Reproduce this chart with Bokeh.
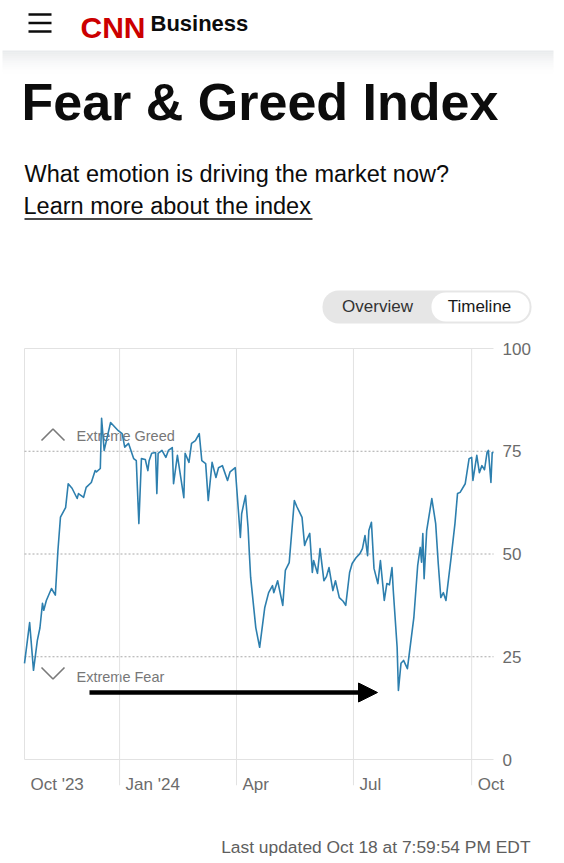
import pandas as pd
from bokeh.plotting import figure
from bokeh.layouts import column
from bokeh.models import (Range1d, FixedTicker, Label, Arrow, NormalHead,
                          BoxAnnotation, ColumnDataSource)
from bokeh.embed import file_html
from bokeh.resources import INLINE

# ---------------- data ----------------
dates = [
    "2023-10-19", "2023-10-23", "2023-10-26", "2023-10-29", "2023-10-31",
    "2023-11-02", "2023-11-03", "2023-11-05", "2023-11-09", "2023-11-12", "2023-11-14",
    "2023-11-16", "2023-11-20", "2023-11-22", "2023-11-25", "2023-11-29", "2023-11-30",
    "2023-12-04", "2023-12-06", "2023-12-10", "2023-12-13", "2023-12-14", "2023-12-17",
    "2023-12-18", "2023-12-20", "2023-12-25", "2023-12-31",
    "2024-01-03", "2024-01-05", "2024-01-08", "2024-01-12", "2024-01-14", "2024-01-16",
    "2024-01-18", "2024-01-21", "2024-01-23", "2024-01-24", "2024-01-26", "2024-01-29",
    "2024-01-30", "2024-01-31",
    "2024-02-03", "2024-02-06", "2024-02-08", "2024-02-11", "2024-02-12", "2024-02-15",
    "2024-02-20", "2024-02-21", "2024-02-24", "2024-02-26", "2024-02-29",
    "2024-03-03", "2024-03-05", "2024-03-08", "2024-03-10", "2024-03-13", "2024-03-16",
    "2024-03-18", "2024-03-21", "2024-03-25", "2024-03-27", "2024-03-31",
    "2024-04-04", "2024-04-05", "2024-04-08", "2024-04-10", "2024-04-11", "2024-04-12",
    "2024-04-16", "2024-04-19", "2024-04-23", "2024-04-26", "2024-04-29", "2024-04-30",
    "2024-05-03", "2024-05-07", "2024-05-09", "2024-05-12", "2024-05-16", "2024-05-18",
    "2024-05-22", "2024-05-24", "2024-05-25", "2024-05-28", "2024-05-30", "2024-05-31",
    "2024-06-03", "2024-06-05", "2024-06-08", "2024-06-10", "2024-06-12", "2024-06-15",
    "2024-06-17", "2024-06-20", "2024-06-23", "2024-06-25", "2024-06-28", "2024-06-30",
    "2024-07-03", "2024-07-06", "2024-07-08", "2024-07-10", "2024-07-12", "2024-07-13",
    "2024-07-15", "2024-07-17", "2024-07-20", "2024-07-22", "2024-07-25", "2024-07-27",
    "2024-07-29", "2024-07-31",
    "2024-08-01", "2024-08-04", "2024-08-05", "2024-08-07", "2024-08-09", "2024-08-12",
    "2024-08-17", "2024-08-20", "2024-08-22", "2024-08-23", "2024-08-24", "2024-08-25",
    "2024-08-27", "2024-08-31",
    "2024-09-03", "2024-09-05", "2024-09-07", "2024-09-09", "2024-09-11", "2024-09-15",
    "2024-09-18", "2024-09-20", "2024-09-22", "2024-09-26", "2024-09-29",
    "2024-10-01", "2024-10-02", "2024-10-05", "2024-10-07", "2024-10-09", "2024-10-11",
    "2024-10-13", "2024-10-14", "2024-10-16", "2024-10-17", "2024-10-18",
]
fear_greed = [
    23.4, 33.3, 21.7, 29, 32,
    38, 36.3, 38.7, 41.6, 40, 50.8,
    59, 61.3, 67.1, 66, 63.5, 64.7,
    63.8, 66.2, 67.4, 70.3, 70, 70.8,
    83, 75.2, 82, 80,
    79.3, 76, 76.9, 73.2, 72.7, 57.4,
    73.2, 73, 70.3, 72.7, 74.5, 74.7,
    64.7, 74.5,
    75.2, 73.5, 75.2, 75.9, 67.1, 74,
    63.7, 74.5, 72.3, 76.9, 77.6,
    79.3, 72.7, 72, 63, 72.3, 68.6,
    71, 71.5, 67.9, 70, 71,
    54, 59.8, 64.2, 56.4, 50.1, 44.3,
    32.1, 27.3, 37, 40.6, 42.3, 40.6,
    43.5, 37.5, 46, 47.9, 63, 61.5,
    58.9, 52.1, 53, 55, 45.5, 48.4,
    45.3, 51.3, 43.5, 44.5, 46.7, 41.1,
    43.5, 39.4, 38.5, 37.5, 45.5, 47.7,
    49.1, 50.1, 51.3, 54.5, 49.6, 55.7,
    57.7, 46.5, 42.8, 48.4, 38.7, 42.8,
    42.5, 46.7,
    41.1, 27.3, 16.8, 23.4, 24.1, 22.1,
    34.5, 47.2, 51.6, 48, 55, 44,
    55.7, 63.5,
    57.4, 47.7, 39.4, 40.6, 38.7, 49.1,
    57.4, 64.7, 65, 67.1, 73.2,
    73.5, 67.9, 74, 69.8, 71.5, 70.5,
    74.7, 75.2, 67.4, 74.7, 74.7,
]
assert len(dates) == len(fear_greed)

tick_dates = ["2023-10-19", "2024-01-01", "2024-04-01", "2024-07-01", "2024-10-01"]
tick_labels = ["Oct '23", "Jan '24", "Apr", "Jul", "Oct"]
y_ticks = [0, 25, 50, 75, 100]
dotted_levels = [25, 50, 75]
solid_levels = [0, 100]

brand_text = "CNN"
section_text = "Business"
title_text = "Fear & Greed Index"
subtitle_text = "What emotion is driving the market now?"
link_text = "Learn more about the index"
toggle_labels = ["Overview", "Timeline"]
zone_labels = ["Extreme Greed", "Extreme Fear"]
footer_text = "Last updated Oct 18 at 7:59:54 PM EDT"

# ---------------- layout (page pixel coordinates; page margin is 0) ----------------
W = 564
HEAD_H = 338                  # header strip: page y 0..338
CHART_TOP, CHART_BOT = 338, 805
FOOT_BOT = 862
FL, FR, FB = 24, 493, 785               # plotting area left/right, frame bottom (page px)
ZERO_Y, HUNDRED_Y = 759, 348            # pixel rows of value 0 and 100
ppu = (ZERO_Y - HUNDRED_Y) / 100.0

FONT = "'Liberation Sans', Arial, Helvetica, sans-serif"
INK = "#0c0c0c"
GRAY = "#6b6b6b"
LINE = "#2d7fae"
GRID_SOLID = "#e2e2e2"
GRID_DOT = "#a8a8a8"
LABEL_PX = 17
MID = 0.35      # distance (em) from alphabetic baseline up to the 'middle' anchor

# Arial/Liberation Sans advance widths (1/1000 em) for centring the shifted x labels
ADV = {"O": 778, "c": 500, "t": 278, " ": 278, "'": 191, "2": 556, "3": 556, "4": 556,
       "J": 500, "a": 556, "n": 556, "A": 667, "p": 556, "r": 333, "u": 556, "l": 222}


def text_w(s, size):
    return sum(ADV.get(ch, 556) for ch in s) * size / 1000.0


def mid(baseline, size):
    return baseline - MID * size


def page_fig(height, y_top, y_bot):
    f = figure(width=W, height=height, x_range=Range1d(0, W), y_range=Range1d(y_bot, y_top),
               x_axis_location=None, y_axis_location=None, min_border=0,
               min_border_left=0, min_border_right=0, min_border_top=0, min_border_bottom=0,
               toolbar_location=None, output_backend="svg", outline_line_color=None,
               background_fill_color="white", border_fill_color="white")
    f.grid.visible = False
    return f


def txt(fig, x, baseline, s, size, color=INK, bold=False, align="left", font=FONT, **kw):
    fig.add_layout(Label(x=x, y=mid(baseline, size), text=s, text_font=font,
                         text_font_size=f"{size}px",
                         text_font_style="bold" if bold else "normal",
                         text_color=color, text_align=align, text_baseline="middle", **kw))


# ================= header =================
hdr = page_fig(HEAD_H, 0, HEAD_H)

n_sh = 14
for i in range(n_sh):
    a = 0.40 * (1 - i / n_sh) ** 1.8
    hdr.add_layout(BoxAnnotation(left=2, right=553, top=50 + i * 1.8, bottom=50 + (i + 1) * 1.8,
                                 fill_color="#c9cdd2", fill_alpha=a, line_color=None))
hdr.segment(x0=[28, 28, 28], y0=[14, 22.5, 31], x1=[51, 51, 51], y1=[14, 22.5, 31],
            line_color=INK, line_width=2.4)
txt(hdr, 80, 37, brand_text, 30, color="#cc0000", bold=True)
txt(hdr, 150, 31, section_text, 22, bold=True)
txt(hdr, 21, 120, title_text, 52, bold=True)
txt(hdr, 24, 181.5, subtitle_text, 23.5)
txt(hdr, 23, 213.5, link_text, 23.5)
hdr.segment(x0=[24], y0=[218.5], x1=[312], y1=[218.5], line_color=INK, line_width=1.5)

hdr.add_layout(BoxAnnotation(left=322, right=531, top=290, bottom=323, fill_color="#e6e6e6",
                             fill_alpha=1, line_color=None, border_radius=16))
hdr.add_layout(BoxAnnotation(left=431, right=529, top=292, bottom=321, fill_color="white",
                             fill_alpha=1, line_color=None, border_radius=14))
txt(hdr, 377, 312, toggle_labels[0], 17, color="#333333", align="center")
txt(hdr, 479, 312, toggle_labels[1], 17, color="#1a1a1a", align="center")

# ================= chart =================
x = pd.to_datetime(dates)
src = ColumnDataSource(dict(date=x, fg=fear_greed))


def ms(d):
    return pd.Timestamp(d).value / 1e6


x0_ms, x1_ms = ms(dates[0]), ms(dates[-1])
px_per_ms = (FR - FL) / (x1_ms - x0_ms)
xr = Range1d(x0_ms - FL / px_per_ms, x1_ms + (W - FR) / px_per_ms)
yr = Range1d(-(FB - ZERO_Y) / ppu, (ZERO_Y - CHART_TOP) / ppu)

p = figure(width=W, frame_width=W, frame_height=FB - CHART_TOP,
           x_axis_type="datetime", y_axis_location=None,
           x_range=xr, y_range=yr, output_backend="svg", toolbar_location=None,
           min_border=0, min_border_left=0, min_border_right=0, min_border_top=0,
           min_border_bottom=CHART_BOT - FB,
           outline_line_color=None, background_fill_color="white",
           border_fill_color="white")
p.grid.visible = False

p.extra_x_ranges = {"px": Range1d(0, W)}
p.extra_y_ranges = {"py": Range1d(FB, CHART_TOP)}

label_ticks = [ms(d) + (6 + text_w(lab, LABEL_PX) / 2) / px_per_ms
               for d, lab in zip(tick_dates, tick_labels)]
p.xaxis.ticker = FixedTicker(ticks=label_ticks)
p.xaxis.major_label_overrides = {t: lab for t, lab in zip(label_ticks, tick_labels)}
p.xaxis.major_label_text_font = FONT
p.xaxis.major_label_text_font_size = f"{LABEL_PX}px"
p.xaxis.major_label_text_color = GRAY
p.xaxis.major_label_standoff = -17
p.xaxis.axis_line_color = None
p.xaxis.major_tick_line_color = None
p.xaxis.minor_tick_line_color = None

# grid lines, bounded to the plotting area
tick_ms = [ms(d) for d in tick_dates]
p.segment(x0=tick_ms[:1], y0=[min(solid_levels)], x1=tick_ms[:1], y1=[max(solid_levels)],
          line_color=GRID_SOLID, line_width=1)
p.segment(x0=tick_ms[1:], y0=[yr.start] * (len(tick_ms) - 1), x1=tick_ms[1:],
          y1=[max(solid_levels)] * (len(tick_ms) - 1), line_color=GRID_SOLID, line_width=1)
p.segment(x0=[x0_ms] * len(solid_levels), y0=solid_levels, x1=[x1_ms] * len(solid_levels),
          y1=solid_levels, line_color=GRID_SOLID, line_width=1)
p.segment(x0=[x0_ms] * len(dotted_levels), y0=dotted_levels, x1=[x1_ms] * len(dotted_levels),
          y1=dotted_levels, line_color=GRID_DOT, line_width=1, line_dash="2 2")

# value labels on the right (placed by the value scale)
for v in y_ticks:
    p.add_layout(Label(x=FR + 9, x_range_name="px", y=v, text=str(v), text_font=FONT,
                       text_font_size=f"{LABEL_PX}px", text_color=GRAY,
                       text_baseline="middle", text_align="left"))

# zone chevrons and labels (under the line)
p.multi_line(xs=[[41, 52.5, 64], [41, 52.5, 64]], ys=[[440, 428.5, 440], [667, 678.5, 667]],
             x_range_name="px", y_range_name="py", line_color="#7a7a7a", line_width=1.6)
for lab, base in zip(zone_labels, (440.5, 681.5)):
    p.add_layout(Label(x=76, y=mid(base, 14.5), x_range_name="px", y_range_name="py", text=lab,
                       text_font=FONT, text_font_size="14.5px", text_color="#777777",
                       text_baseline="middle", level="underlay"))

p.line("date", "fg", source=src, line_color=LINE, line_width=1.6, line_join="round")

p.add_layout(Arrow(x_start=89, y_start=692, x_end=377, y_end=692,
                   x_range_name="px", y_range_name="py", line_width=4.5, line_color="black",
                   end=NormalHead(size=19, fill_color="black", line_color="black", line_width=1)))

# ================= footer =================
ftr = page_fig(FOOT_BOT - CHART_BOT, CHART_BOT, FOOT_BOT)
txt(ftr, 530, 853, footer_text, 17.4, color="#5e5e5e", align="right")

page = column(hdr, p, ftr, spacing=0)
open("out.html", "w").write(file_html(page, INLINE))
